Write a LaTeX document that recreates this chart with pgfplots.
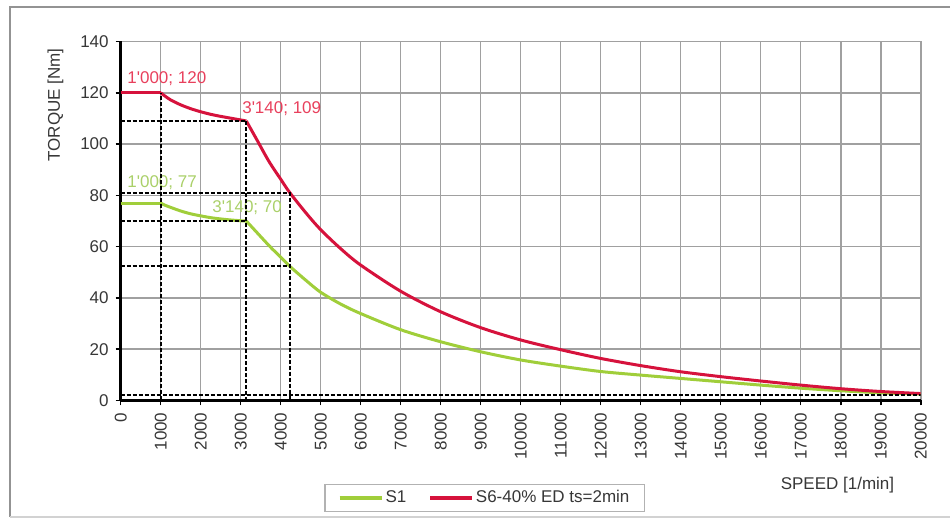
\documentclass[border=0pt]{standalone}
\usepackage{pgfplots}
\pgfplotsset{compat=1.18}
\usepackage{fontspec}
\setmainfont{Liberation Sans}

\definecolor{s1green}{RGB}{160,206,58}
\definecolor{s6red}{RGB}{214,18,60}
\definecolor{s1txt}{RGB}{170,208,105}
\definecolor{s6txt}{RGB}{232,64,92}
\definecolor{gridgray}{RGB}{160,160,160}
\definecolor{txtgray}{RGB}{55,55,55}
\newcommand{\chartfont}{\fontsize{8.5pt}{10pt}\selectfont}

\begin{document}
\begin{tikzpicture}
\useasboundingbox (0pt,0pt) rectangle (475pt,261.5pt);
% outer chart frame (right edge is cut off in the reference)
\draw[gray!85, line width=1pt] (475pt,258.15pt) -- (5pt,258.15pt) -- (5pt,3pt);
\draw[gray!35, line width=0.6pt] (5pt,3pt) -- (475pt,3pt);

\begin{axis}[
  at={(60.35pt,61.25pt)}, anchor=south west,
  scale only axis, width=400pt, height=179.5pt,
  xmin=0, xmax=20000, ymin=0, ymax=140,
  xtick={0,1000,...,20000}, ytick={0,20,...,140},
  axis x line*=bottom, axis y line*=left,
  axis line style={black, line width=1.2pt, -},
  tick align=outside, major tick length=2.5pt,
  tick style={black, line width=0.8pt},
  grid=major, grid style={gridgray, line width=0.8pt},
  scaled x ticks=false,
  /pgf/number format/assume math mode=true,
  /pgf/number format/1000 sep={},
  ticklabel style={font=\chartfont, text=txtgray},
  xticklabel style={rotate=90, anchor=east},
  xlabel={SPEED [1/min]}, ylabel={TORQUE [Nm]},
  label style={font=\chartfont, text=txtgray},
  xlabel style={at={(axis description cs:0.896,-0.237)}, anchor=center},
  ylabel style={at={(axis description cs:-0.0815,0.823)}, anchor=center},
  legend columns=2,
  legend style={at={(0.455,-0.272)}, anchor=center, draw=gray!60,
    line width=0.6pt, font=\chartfont, text=txtgray,
    inner xsep=6.5pt, inner ysep=2pt,
    nodes={inner sep=1pt},
    /tikz/every even column/.append style={column sep=10pt}},
  legend image code/.code={\draw[#1, line width=1.8pt] (0pt,0pt) -- (21pt,0pt);},
]

% S1: flat part, field-weakening knee, tail
\addplot[s1green, line width=1.5pt] coordinates {(0,77)(1000,77)};
\addlegendentry{S1}
\addplot[forget plot, s1green, line width=1.5pt, smooth] coordinates {
  (1000,77)(1100,76.2)(1250,75.3)(1500,73.9)(1750,72.8)(2000,72)
  (2250,71.3)(2500,70.8)(2750,70.4)(3000,70.1)(3140,70)
};
\addplot[forget plot, s1green, line width=1.5pt, smooth] coordinates {
  (3140,70)(3400,65.6)(3733,60)(4000,55.9)(4230,52.3)(4650,46.6)(5000,42.2)
  (5500,37.6)(6000,33.9)(7000,27.6)(8000,22.9)(9000,19)(10000,15.8)
  (11000,13.4)(12000,11.3)(13000,9.9)(14000,8.6)(15000,7.3)(16000,6)
  (17000,4.8)(18000,3.8)(19000,3)(20000,2.5)
};

% S6-40% ED
\addplot[s6red, line width=1.5pt] coordinates {(0,120)(1000,120)};
\addlegendentry{S6-40\% ED ts=2min}
\addplot[forget plot, s6red, line width=1.5pt, smooth] coordinates {
  (1000,120)(1100,118.8)(1250,117.2)(1500,115.3)(1750,113.8)
  (2000,112.6)(2250,111.6)(2500,110.8)(2750,110.1)(3000,109.4)(3140,109)
};
\addplot[forget plot, s6red, line width=1.5pt, smooth] coordinates {
  (3140,109)(3400,101.8)(3700,93.4)(4000,86.3)(4230,81)(4650,72.8)(5000,66.6)
  (5500,59.2)(6000,52.8)(7000,42.6)(8000,34.6)(9000,28.4)(10000,23.6)
  (11000,19.8)(12000,16.4)(13000,13.6)(14000,11.2)(15000,9.3)
  (16000,7.6)(17000,6)(18000,4.6)(19000,3.5)(20000,2.7)
};

% point labels
\node[anchor=west, text=s6txt, font=\chartfont, inner sep=0pt] at (axis cs:157,125.7) {1\textquotesingle 000; 120};
\node[anchor=west, text=s6txt, font=\chartfont, inner sep=0pt] at (axis cs:3030,114) {3\textquotesingle 140; 109};
\node[anchor=west, text=s1txt, font=\chartfont, inner sep=0pt] at (axis cs:157,85) {1\textquotesingle 000; 77};
\node[anchor=west, text=s1txt, font=\chartfont, inner sep=0pt] at (axis cs:2283,75.2) {3\textquotesingle 140; 70};

% dashed guide lines
\pgfplotsset{guide/.style={forget plot, black, line width=1pt, dash pattern=on 2pt off 1pt}}
\addplot[guide] coordinates {(1000,0)(1000,120)};
\addplot[guide] coordinates {(0,109)(3140,109)(3140,0)};
\addplot[guide] coordinates {(0,70)(3140,70)};
\addplot[guide] coordinates {(0,81)(4230,81)(4230,0)};
\addplot[guide] coordinates {(0,52.3)(4230,52.3)};
\addplot[guide] coordinates {(0,2.3)(20000,2.3)};

\end{axis}
\end{tikzpicture}
\end{document}
